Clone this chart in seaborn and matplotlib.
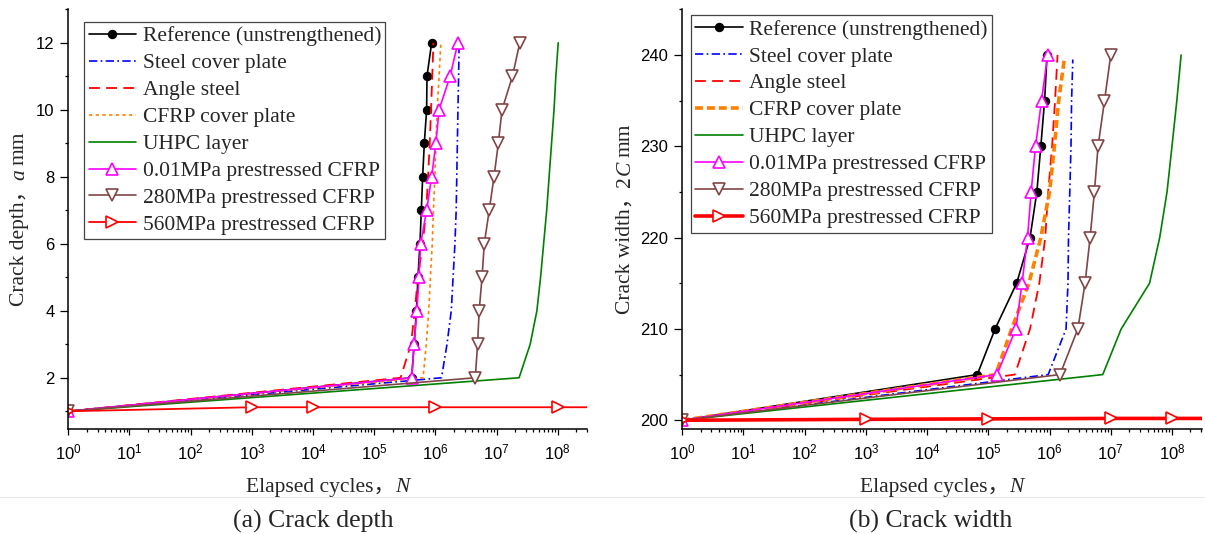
import numpy as np
import seaborn as sns
import matplotlib
matplotlib.use("Agg")
import matplotlib.pyplot as plt
from matplotlib.lines import Line2D
from matplotlib.ticker import LogLocator, FixedLocator, NullFormatter

# (a) crack depth a (mm) vs elapsed cycles N
depth = [1, 2, 3, 4, 5, 6, 7, 8, 9, 10, 11, 12]
n_ref_a = [1, 4.1e5, 4.5e5, 4.9e5, 5.2e5, 5.6e5, 5.9e5, 6.2e5, 6.6e5, 7.2e5, 7.3e5, 8.7e5]
n_steel_a = [1, 1.26e6, 1.55e6, 1.82e6, 1.95e6, 2.09e6, 2.19e6, 2.24e6, 2.29e6, 2.34e6, 2.40e6, 2.45e6]
n_angle_a = [1, 2.7e5, 4.0e5, 4.6e5, 5.2e5, 6.2e5, 7.1e5, 7.6e5, 8.1e5, 8.5e5, 8.9e5, 9.3e5]
n_cfrp_a = [1, 6.3e5, 7.1e5, 7.8e5, 8.3e5, 8.9e5, 9.3e5, 9.8e5, 1.02e6, 1.07e6, 1.15e6, 1.23e6]
n_uhpc_a = [1, 2.34e7, 3.55e7, 4.57e7, 5.25e7, 5.89e7, 6.61e7, 7.24e7, 7.94e7, 8.71e7, 9.33e7, 1.02e8]
n_p001_a = [1, 4.1e5, 4.5e5, 5.0e5, 5.4e5, 5.75e5, 7.2e5, 8.7e5, 1.02e6, 1.15e6, 1.74e6, 2.34e6]
n_p280_a = [1, 4.5e6, 4.9e6, 5.2e6, 5.8e6, 6.3e6, 7.6e6, 9.1e6, 1.07e7, 1.23e7, 1.82e7, 2.4e7]
n_p560_a = [1, 1e3, 1e4, 1e6, 1e8, 1e9]
depth_p560 = [1.0, 1.12, 1.12, 1.12, 1.12, 1.12]

# (b) crack width 2C (mm) vs elapsed cycles N
width = [200, 205, 210, 215, 220, 225, 230, 235, 240]
width_short = [200, 205, 210, 215, 220, 225, 230, 235, 239.5]
n_ref_b = [1, 6.6e4, 1.29e5, 2.9e5, 4.8e5, 6.2e5, 7.2e5, 8.3e5, 9.1e5]
n_steel_b = [1, 9.5e5, 1.86e6, 2.0e6, 2.04e6, 2.14e6, 2.24e6, 2.29e6, 2.4e6]
n_angle_b = [1, 2.7e5, 4.8e5, 6.8e5, 8.5e5, 9.5e5, 1.10e6, 1.23e6, 1.35e6]
n_cfrp_b = [1, 1.32e5, 2.4e5, 4.6e5, 7.2e5, 1.0e6, 1.2e6, 1.41e6, 1.74e6]
n_uhpc_b = [1, 7.4e6, 1.48e7, 4.3e7, 6.3e7, 8.3e7, 1.0e8, 1.2e8, 1.41e8]
n_p001_b = [1, 1.38e5, 2.82e5, 3.55e5, 4.37e5, 5.0e5, 5.9e5, 7.4e5, 9.3e5]
n_p280_b = [1, 1.48e6, 2.9e6, 3.8e6, 4.6e6, 5.4e6, 6.2e6, 7.9e6, 1.0e7]
n_p560_b = [1, 1e3, 1e5, 1e7, 1e8, 1e9]
width_p560 = [200.0, 200.1, 200.15, 200.2, 200.2, 200.2]

labels = ["Reference (unstrengthened)", "Steel cover plate", "Angle steel",
          "CFRP cover plate", "UHPC layer", "0.01MPa prestressed CFRP",
          "280MPa prestressed CFRP", "560MPa prestressed CFRP"]

cycle_ticks = [1e0, 1e1, 1e2, 1e3, 1e4, 1e5, 1e6, 1e7, 1e8]
depth_ticks = [2, 4, 6, 8, 10, 12]
depth_minor = [1, 3, 5, 7, 9, 11, 13]
width_ticks = [200, 210, 220, 230, 240]
width_minor = [205, 215, 225, 235, 245]

FAM = ["Liberation Serif", "Noto Sans CJK SC"]
sns.set_style("ticks")
plt.rcParams["font.family"] = FAM

W, H = 1205, 534
fig = plt.figure(figsize=(12.05, 5.34), dpi=100)
ax1 = fig.add_axes([0.0567, 0.1966, 0.4307, 0.786])
ax2 = fig.add_axes([0.5662, 0.1966, 0.4310, 0.786])

brown = "#804545"


def style(thick):
    # one dict per series, same order as labels
    return [
        dict(color="black", lw=1.2, marker="o", ms=6, mfc="black", mec="black"),
        dict(color="#0000ff", lw=1.2, ls=(0, (5, 2, 1, 2))),
        dict(color="#ff0000", lw=1.3, ls=(0, (6, 3.5))),
        dict(color="#ff8000", lw=2.6, ls=(0, (2.2, 1.1))) if thick
        else dict(color="#ff8000", lw=1.2, ls=(0, (2, 2))),
        dict(color="#008000", lw=1.2),
        dict(color="#ff00ff", lw=1.2, marker="^", ms=8.5, mfc="white", mec="#ff00ff", mew=1.2),
        dict(color=brown, lw=1.2, marker="v", ms=8.5, mfc="white", mec=brown, mew=1.2),
        dict(color="#ff0000", lw=2.6 if thick else 1.3, marker=">", ms=8.5,
             mfc="white", mec="#ff0000", mew=1.2),
    ]


series_a = [(n_ref_a, depth), (n_steel_a, depth), (n_angle_a, depth), (n_cfrp_a, depth),
            (n_uhpc_a, depth), (n_p001_a, depth), (n_p280_a, depth), (n_p560_a, depth_p560)]
series_b = [(n_ref_b, width), (n_steel_b, width_short), (n_angle_b, width),
            (n_cfrp_b, width_short), (n_uhpc_b, width), (n_p001_b, width),
            (n_p280_b, width), (n_p560_b, width_p560)]

for ax, series, thick in [(ax1, series_a, False), (ax2, series_b, True)]:
    ax.set_xscale("log")
    for (x, y), lab, kw in zip(series, labels, style(thick)):
        sns.lineplot(x=x, y=y, ax=ax, estimator=None, sort=False, label=lab, **kw)
    ax.set_xlim(1, 3.05e8)
    ax.xaxis.set_major_locator(FixedLocator(cycle_ticks))
    ax.xaxis.set_minor_locator(LogLocator(base=10, subs=np.arange(2, 10), numticks=200))
    ax.xaxis.set_minor_formatter(NullFormatter())
    ax.tick_params(axis="both", which="both", direction="out", colors="black",
                   labelsize=12, labelfontfamily="Liberation Sans", width=0.9)
    ax.tick_params(axis="x", which="major", length=4.5, pad=5)
    ax.tick_params(axis="y", which="major", length=6, pad=4)
    ax.tick_params(axis="both", which="minor", length=2.5)
    for s in ["left", "bottom"]:
        ax.spines[s].set_linewidth(1.1)
        ax.spines[s].set_color("black")
    sns.despine(ax=ax)
    ax.set_xlabel("")
    ax.set_ylabel("")
    leg = ax.legend(loc="upper left", fontsize=15.5, frameon=True, fancybox=False,
                    edgecolor="#444444", framealpha=1, handlelength=2.2,
                    handletextpad=0.3, labelspacing=0.32, borderpad=0.2,
                    borderaxespad=0, numpoints=1)
    leg.get_frame().set_linewidth(0.9)

ax1.set_ylim(0.47, 13)
ax1.yaxis.set_major_locator(FixedLocator(depth_ticks))
ax1.yaxis.set_minor_locator(FixedLocator(depth_minor))
ax1.get_legend().set_bbox_to_anchor((0.031, 0.970), transform=ax1.transAxes)

ax2.set_ylim(199.04, 245)
ax2.yaxis.set_major_locator(FixedLocator(width_ticks))
ax2.yaxis.set_minor_locator(FixedLocator(width_minor))
ax2.get_legend().set_bbox_to_anchor((0.017, 0.986), transform=ax2.transAxes)

renderer = fig.canvas.get_renderer()
SIZE = 15.5


def piece_width(txt, italic):
    t = fig.text(0.5, 0.5, txt, fontsize=SIZE, family=FAM, style="italic" if italic else "normal")
    w = t.get_window_extent(renderer).width
    t.remove()
    return w


def mixed_label(pieces, cx, cy, vertical=False):
    # pieces: (text, italic, gap after in px); cx, cy: centre in image pixels
    widths = [piece_width(t, it) for t, it, _ in pieces]
    total = sum(widths) + sum(g for _, _, g in pieces[:-1])
    pos = -total / 2
    for (txt, it, gap), w in zip(pieces, widths):
        kw = dict(fontsize=SIZE, family=FAM, style="italic" if it else "normal")
        if vertical:
            fig.text((cx + 7) / W, 1 - (cy - pos) / H, txt, rotation=90,
                     rotation_mode="anchor", ha="left", va="baseline", **kw)
        else:
            fig.text((cx + pos) / W, 1 - (cy + 7) / H, txt, ha="left", va="baseline", **kw)
        pos += w + gap


mixed_label([("Elapsed cycles，", False, 0), ("N", True, 0)], 328, 485)
mixed_label([("Elapsed cycles，", False, 0), ("N", True, 0)], 942, 485)
mixed_label([("Crack depth，", False, 0), ("a", True, 4), ("mm", False, 0)], 17, 219, True)
mixed_label([("Crack width，", False, 0), ("2", False, 1), ("C", True, 4), ("mm", False, 0)],
            623, 219, True)

fig.add_artist(Line2D([0, 1], [0.069, 0.069], transform=fig.transFigure,
                      color="#e8e8e8", lw=0.8))
fig.text(313 / W, 1 - 521 / H, "(a) Crack depth", ha="center", va="center", fontsize=18.5)
fig.text(931 / W, 1 - 521 / H, "(b) Crack width", ha="center", va="center", fontsize=18.5)

fig.savefig("out.png", dpi=100)
